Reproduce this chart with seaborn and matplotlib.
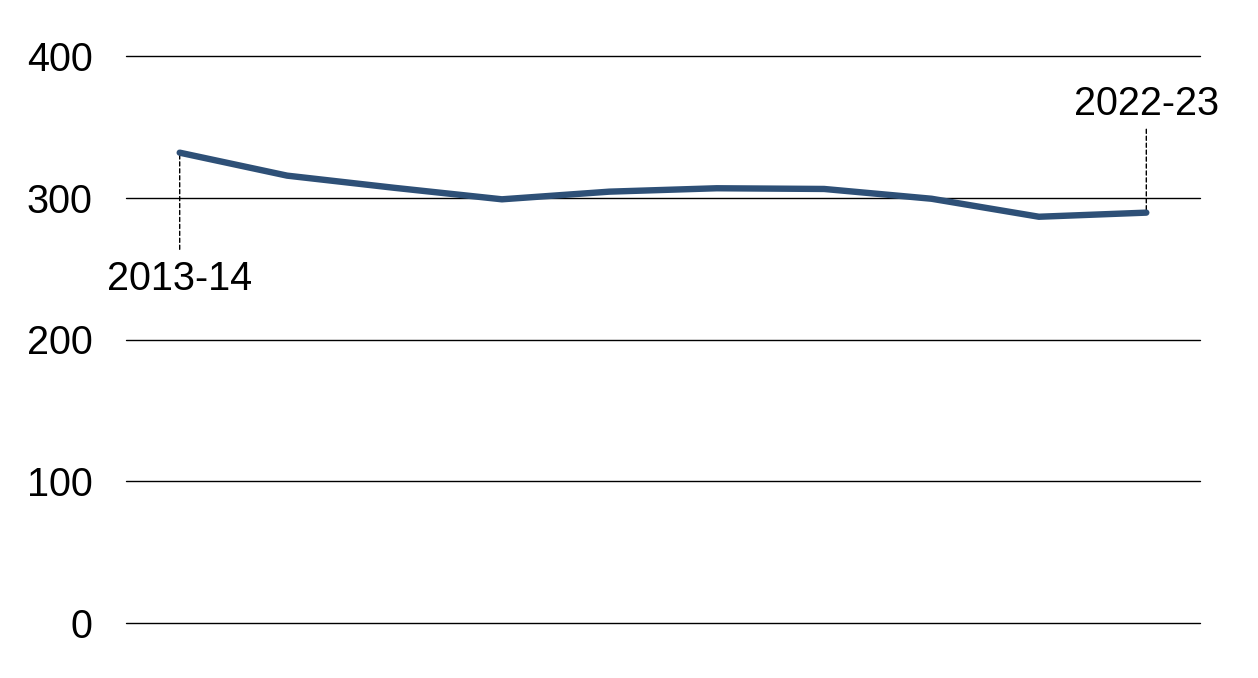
import matplotlib
matplotlib.use("Agg")
import matplotlib.pyplot as plt
import seaborn as sns
import pandas as pd

years = ["2013-14", "2014-15", "2015-16", "2016-17", "2017-18",
         "2018-19", "2019-20", "2020-21", "2021-22", "2022-23"]
values = [331.8, 315.6, 307.0, 298.9, 304.3, 306.7, 306.2, 299.3, 286.6, 289.5]
yticks = [0, 100, 200, 300, 400]

sns.set_theme(style="white")
plt.rcParams['font.family'] = ['Liberation Sans', 'DejaVu Sans']

df = pd.DataFrame({"idx": range(len(years)), "year": years, "value": values})

fig = plt.figure(figsize=(12.58, 6.78), dpi=100)
ax = fig.add_axes([126/1258, 1 - 623/678, (1200 - 126)/1258, (623 - 56)/678])

for t in yticks:
    ax.axhline(t, color="black", lw=1.0, zorder=1, clip_on=False)

sns.lineplot(data=df, x="idx", y="value", ax=ax, color="#2E5077", lw=4.6,
             solid_capstyle="round", zorder=3)

ax.set_xlim(-0.5, 9.5)
ax.set_ylim(0, 400)
ax.set_yticks(yticks)
ax.set_yticklabels([str(t) for t in yticks], fontsize=28.5, color="black")
ax.tick_params(axis="y", length=0, pad=24)
ax.set_xticks([])
ax.set_xlabel("")
ax.set_ylabel("")
for s in ax.spines.values():
    s.set_visible(False)

# annotations for first and last points
ax.annotate(years[0], xy=(0, values[0]), xytext=(0, 243),
            ha="center", va="center", fontsize=28.5, color="black",
            arrowprops=dict(arrowstyle="-", linestyle=(0, (3, 2)), color="black", lw=1.0,
                            shrinkA=5, shrinkB=0),
            zorder=2)
ax.annotate(years[-1], xy=(9, values[-1]), xytext=(9, 366),
            ha="center", va="center", fontsize=28.5, color="black",
            arrowprops=dict(arrowstyle="-", linestyle=(0, (3, 2)), color="black", lw=1.0,
                            shrinkA=2, shrinkB=0),
            zorder=2)

fig.savefig("out.png", dpi=100)
